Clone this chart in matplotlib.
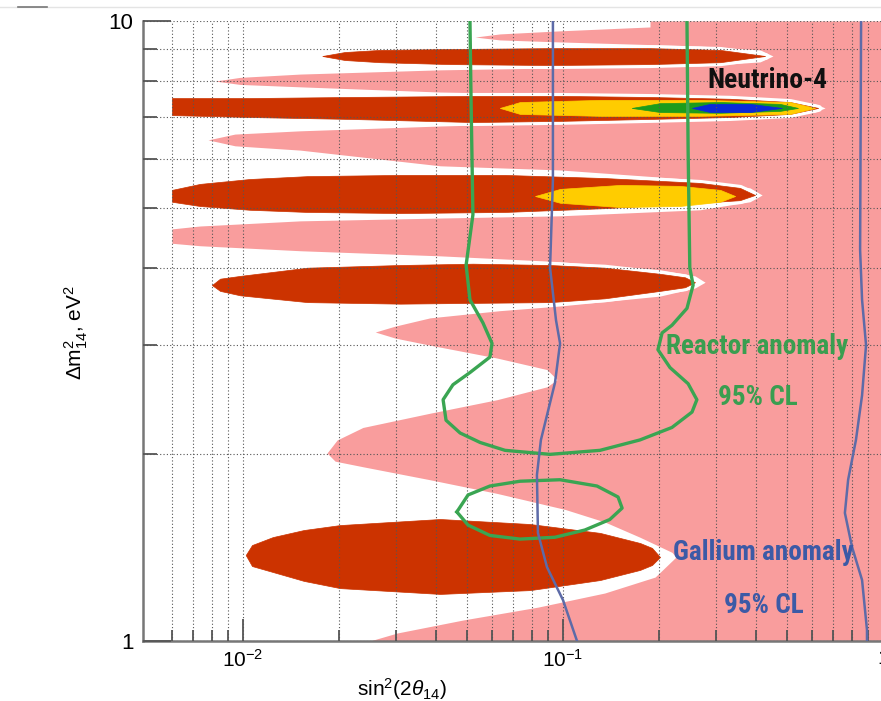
import matplotlib
matplotlib.use("Agg")
import matplotlib.pyplot as plt
from matplotlib import font_manager
from matplotlib.lines import Line2D
from matplotlib.ticker import FixedLocator, NullFormatter, FixedFormatter

# values: x = sin^2(2 theta14), y = dm^2_14 [eV^2]

# left edge of the pink region, listed from top to bottom
pink_dm2 = [10.0, 9.78, 9.64, 9.53, 9.42, 9.32, 9.25, 9.11, 8.98, 8.78, 8.59, 8.46,
            8.40, 8.34, 8.21, 8.11, 8.00, 7.90, 7.83, 7.68, 7.62, 7.54, 7.43, 7.35,
            7.24, 7.13, 7.05, 6.95, 6.85, 6.77, 6.65, 6.57, 6.43, 6.29, 6.19, 5.84,
            5.75, 5.54, 5.38, 5.24, 5.11, 4.96, 4.85, 4.81, 4.76, 4.67, 4.62, 4.38,
            4.34, 4.26, 4.18, 4.09, 3.97, 3.88, 3.79, 3.71, 3.60, 3.47, 3.41, 3.32,
            3.22, 3.15, 3.08, 3.00, 2.86, 2.74, 2.64, 2.57, 2.45, 2.33, 2.21, 2.11,
            2.01, 1.95, 1.91, 1.82, 1.73, 1.63, 1.556, 1.47, 1.39, 1.366, 1.268,
            1.195, 1.134, 1.081, 1.03, 1.0]
pink_sin2 = [0.187, 0.187, 0.098, 0.0635, 0.0531, 0.0635, 0.098, 0.268, 0.413, 0.453,
             0.413, 0.268, 0.098, 0.0413, 0.0151, 0.00979, 0.00818, 0.00979, 0.0151,
             0.0413, 0.098, 0.268, 0.512, 0.613, 0.659, 0.613, 0.512, 0.268, 0.098,
             0.0413, 0.0151, 0.00944, 0.00778, 0.00944, 0.0151, 0.0413, 0.098, 0.268,
             0.384, 0.419, 0.384, 0.268, 0.098, 0.0413, 0.0151, 0.00734, 0.006, 0.006,
             0.00734, 0.0151, 0.0413, 0.098, 0.201, 0.2585, 0.278, 0.2585, 0.201,
             0.098, 0.0635, 0.0384, 0.0299, 0.0259, 0.0299, 0.0384, 0.0622, 0.0891,
             0.0958, 0.0891, 0.0622, 0.0384, 0.0237, 0.0197, 0.0183, 0.0194, 0.0237,
             0.0384, 0.0622, 0.1015, 0.135, 0.174, 0.219, 0.2255, 0.194, 0.135,
             0.0835, 0.0487, 0.0303, 0.0249]

# dark red islands (x samples, upper and lower edge)
isl_a_x = [0.0177, 0.0208, 0.0268, 0.0444, 0.091, 0.187, 0.31, 0.428]
isl_a_hi = [8.78, 8.91, 8.98, 9.01, 9.04, 9.04, 8.98, 8.78]
isl_a_lo = [8.78, 8.65, 8.58, 8.52, 8.49, 8.52, 8.58, 8.78]

isl_b_x = [0.006, 0.0105, 0.0216, 0.0523, 0.098, 0.187, 0.333, 0.512, 0.627]
isl_b_hi = [7.51, 7.51, 7.54, 7.57, 7.57, 7.54, 7.49, 7.40, 7.24]
isl_b_lo = [7.05, 7.00, 6.95, 6.87, 6.90, 6.95, 7.00, 7.08, 7.24]

isl_c_x = [0.006, 0.00734, 0.0105, 0.0159, 0.031, 0.0659, 0.135, 0.268, 0.357, 0.398]
isl_c_hi = [5.34, 5.46, 5.56, 5.62, 5.645, 5.645, 5.58, 5.48, 5.38, 5.24]
isl_c_lo = [5.11, 5.03, 4.96, 4.92, 4.90, 4.92, 4.99, 5.09, 5.14, 5.24]

isl_d_x = [0.008, 0.00848, 0.0098, 0.0159, 0.031, 0.0523, 0.0911, 0.135, 0.201, 0.2405,
           0.2585]
isl_d_hi = [3.75, 3.84, 3.88, 4.00, 4.04, 4.06, 4.04, 4.00, 3.91, 3.86, 3.79]
isl_d_lo = [3.75, 3.67, 3.61, 3.52, 3.50, 3.51, 3.52, 3.57, 3.67, 3.72, 3.79]

isl_e_x = [0.0102, 0.01067, 0.0124, 0.0155, 0.0201, 0.0413, 0.0789, 0.1305, 0.174,
           0.1897, 0.201]
isl_e_hi = [1.376, 1.428, 1.471, 1.51, 1.538, 1.573, 1.544, 1.494, 1.439, 1.413, 1.366]
isl_e_lo = [1.376, 1.321, 1.292, 1.25, 1.217, 1.191, 1.208, 1.254, 1.302, 1.326, 1.366]

# Neutrino-4 best fit areas
yel_b_x = [0.0635, 0.0734, 0.131, 0.268, 0.512, 0.613]
yel_b_hi = [7.24, 7.40, 7.46, 7.46, 7.40, 7.24]
yel_b_lo = [7.24, 7.08, 7.03, 7.03, 7.08, 7.24]

yel_c_x = [0.0818, 0.098, 0.151, 0.232, 0.31, 0.345]
yel_c_hi = [5.22, 5.36, 5.44, 5.42, 5.34, 5.22]
yel_c_lo = [5.22, 5.09, 5.01, 5.03, 5.11, 5.22]

grn_x = [0.164, 0.201, 0.31, 0.476, 0.542]
grn_hi = [7.24, 7.37, 7.40, 7.35, 7.24]
grn_lo = [7.24, 7.13, 7.11, 7.16, 7.24]

blu_x = [0.253, 0.288, 0.384, 0.483]
blu_hi = [7.24, 7.35, 7.35, 7.24]
blu_lo = [7.24, 7.13, 7.13, 7.24]

# reactor anomaly 95% CL
reac_x = [0.0512, 0.0516, 0.0523, 0.0498, 0.0512, 0.0562, 0.060, 0.0591, 0.0512,
          0.0453, 0.0422, 0.0431, 0.0477, 0.0551, 0.0659, 0.0911, 0.1305, 0.174,
          0.219, 0.253, 0.262, 0.246, 0.216, 0.198, 0.204, 0.219, 0.244, 0.255,
          0.249, 0.246, 0.244]
reac_y = [10.0, 7.46, 4.87, 4.04, 3.55, 3.26, 3.02, 2.87, 2.71, 2.59, 2.45, 2.27,
          2.165, 2.09, 2.03, 2.00, 2.03, 2.11, 2.21, 2.34, 2.45, 2.60, 2.76, 2.95,
          3.14, 3.23, 3.44, 3.75, 4.00, 6.19, 10.0]
reac_loop_x = [0.0466, 0.0505, 0.0591, 0.0734, 0.0979, 0.1277, 0.1486, 0.153, 0.140,
               0.117, 0.0944, 0.0734, 0.0591, 0.0505, 0.0466]
reac_loop_y = [1.615, 1.72, 1.778, 1.81, 1.82, 1.778, 1.707, 1.638, 1.57, 1.51,
               1.47, 1.46, 1.48, 1.538, 1.615]

# gallium anomaly 95% CL
gal_left_x = [0.093, 0.093, 0.0911, 0.0951, 0.0979, 0.0944, 0.0853, 0.0829, 0.0835,
              0.0891, 0.1, 0.1106]
gal_left_y = [10.0, 5.54, 4.00, 3.29, 3.02, 2.61, 2.11, 1.853, 1.494, 1.316, 1.164, 1.0]
gal_right_x = [0.854, 0.848, 0.860, 0.885, 0.860, 0.823, 0.778, 0.760, 0.800, 0.860,
               0.891, 0.891]
gal_right_y = [10.0, 4.27, 3.55, 3.00, 2.49, 2.11, 1.82, 1.609, 1.418, 1.254, 1.042, 1.0]

x_minor = [0.006, 0.007, 0.008, 0.009, 0.02, 0.03, 0.04, 0.05, 0.06, 0.07, 0.08,
           0.09, 0.2, 0.3, 0.4, 0.5, 0.6, 0.7, 0.8, 0.9]
y_minor = [2, 3, 4, 5, 6, 7, 8, 9]


def narrow_font():
    # look for a condensed sans face; fall back to a smaller Liberation Sans
    fonts = font_manager.fontManager.ttflist
    for f in fonts:
        if f.name in ('Liberation Sans Narrow', 'Roboto Condensed',
                      'Noto Sans Condensed', 'Open Sans Condensed'):
            return {'family': f.name}, 1.0
    for f in fonts:
        if f.name in ('Noto Sans', 'Roboto', 'Open Sans', 'DejaVu Sans') \
                and 'condensed' in str(f.stretch) and f.weight in (700, 'bold'):
            return {'family': f.name, 'fontstretch': 'condensed'}, 0.95
    return {'family': 'Liberation Sans'}, 0.86


plt.rcParams['font.family'] = ['Liberation Sans', 'DejaVu Sans']
plt.rcParams['mathtext.fontset'] = 'custom'
plt.rcParams['mathtext.rm'] = 'Liberation Sans'
plt.rcParams['mathtext.it'] = 'Liberation Sans:italic'

PINK = '#f99d9d'
DARK = '#cc3300'

fig = plt.figure(figsize=(8.81, 7.01), dpi=100)
ax = fig.add_axes([0.1623, 0.0856, 0.840, 0.8845])
ax.set_xscale('log')
ax.set_yscale('log')
ax.set_xlim(0.00487, 1.0)
ax.set_ylim(1.0, 10.0)

ax.fill_betweenx(pink_dm2, pink_sin2, 1.0, color=PINK, lw=0, zorder=1)

islands = [(isl_a_x, isl_a_lo, isl_a_hi), (isl_b_x, isl_b_lo, isl_b_hi),
           (isl_c_x, isl_c_lo, isl_c_hi), (isl_d_x, isl_d_lo, isl_d_hi),
           (isl_e_x, isl_e_lo, isl_e_hi)]
for xs, lo, hi in islands:
    ax.fill_between(xs, lo, hi, facecolor='white', edgecolor='white', lw=5, zorder=1.1)
for xs, lo, hi in islands:
    ax.fill_between(xs, lo, hi, facecolor=DARK, edgecolor=DARK, lw=0.5, zorder=1.2)

for xs, lo, hi, c in [(yel_b_x, yel_b_lo, yel_b_hi, '#ffcc00'),
                      (yel_c_x, yel_c_lo, yel_c_hi, '#ffcc00'),
                      (grn_x, grn_lo, grn_hi, '#1c9c1c'),
                      (blu_x, blu_lo, blu_hi, '#0a2ad8')]:
    ax.fill_between(xs, lo, hi, facecolor=c, edgecolor=c, lw=0.5, zorder=1.3)

ax.plot(reac_x, reac_y, color='#3aa552', lw=2.4, zorder=3)
ax.plot(reac_loop_x, reac_loop_y, color='#3aa552', lw=2.4, zorder=3)
ax.plot(gal_left_x, gal_left_y, color='#5d6ba8', lw=1.8, zorder=3)
ax.plot(gal_right_x, gal_right_y, color='#5d6ba8', lw=1.8, zorder=3)

# axes, ticks, grid in ROOT style
ax.xaxis.set_major_locator(FixedLocator([0.01, 0.1, 1.0]))
ax.xaxis.set_minor_locator(FixedLocator(x_minor))
ax.xaxis.set_major_formatter(FixedFormatter([r'$10^{-2}$', r'$10^{-1}$', '1']))
ax.xaxis.set_minor_formatter(NullFormatter())
ax.yaxis.set_major_locator(FixedLocator([1, 10]))
ax.yaxis.set_minor_locator(FixedLocator(y_minor))
ax.yaxis.set_major_formatter(FixedFormatter(['1', '10']))
ax.yaxis.set_minor_formatter(NullFormatter())

ax.tick_params(axis='both', which='both', direction='in', color='#555555', width=1.3)
ax.tick_params(axis='x', which='major', length=16, pad=6, labelsize=15)
ax.tick_params(axis='x', which='minor', length=8)
ax.tick_params(axis='y', which='major', length=20, pad=7, labelsize=16)
ax.tick_params(axis='y', which='minor', length=10)
ax.tick_params(top=False, right=False, which='both')

ax.grid(True, which='both', color='#555555', lw=0.8, ls=(0, (1, 2)))
ax.set_axisbelow(False)
for g in ax.get_xgridlines() + ax.get_ygridlines():
    g.set_zorder(2)

for side in ['top', 'right']:
    ax.spines[side].set_visible(False)
for side in ['left', 'bottom']:
    ax.spines[side].set_color('#777777')
    ax.spines[side].set_linewidth(1.8)

ax.set_xlabel(r'sin$^2$(2$\theta_{14}$)', fontsize=15)
ax.xaxis.set_label_coords(0.35, -0.056)
ax.set_ylabel(r'$\Delta$m$^2_{14}$, eV$^2$', fontsize=15)
ax.yaxis.set_label_coords(-0.071, 0.497)

nf, k = narrow_font()
ax.text(0.434, 8.03, 'Neutrino-4', fontsize=20 * k, fontweight='bold',
        color='#111111', ha='center', va='center', zorder=4, **nf)
ax.text(0.404, 2.98, 'Reactor anomaly', fontsize=19.5 * k, fontweight='bold',
        color='#3a9e50', ha='center', va='center', zorder=4, **nf)
ax.text(0.406, 2.466, '95% CL', fontsize=19.5 * k, fontweight='bold',
        color='#3a9e50', ha='center', va='center', zorder=4, **nf)
ax.text(0.4217, 1.39, 'Gallium anomaly', fontsize=19.5 * k, fontweight='bold',
        color='#3c5aa6', ha='center', va='center', zorder=4, **nf)
ax.text(0.424, 1.143, '95% CL', fontsize=19.5 * k, fontweight='bold',
        color='#3c5aa6', ha='center', va='center', zorder=4, **nf)

# thin frame line of the original screenshot
fig.add_artist(Line2D([0.0, 1.0], [0.99, 0.99], color='#e4e4e4', lw=1.0))
fig.add_artist(Line2D([0.02, 0.053], [0.99, 0.99], color='#777777', lw=1.2))

fig.savefig('out.png', dpi=100)
